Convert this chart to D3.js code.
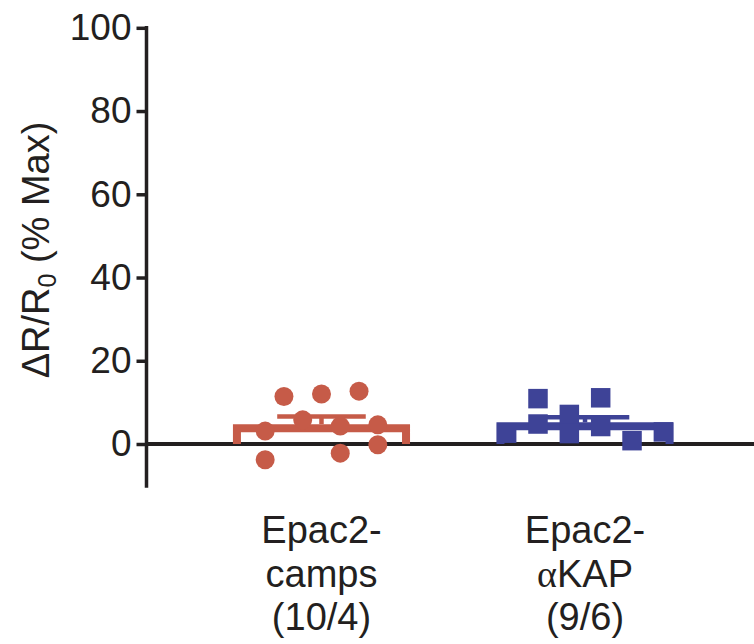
<!DOCTYPE html>
<html>
<head>
<meta charset="utf-8">
<script src="https://cdn.jsdelivr.net/npm/d3@7"></script>
<style>
  body { margin: 0; background: #fff; }
  text { font-family: "Liberation Sans", Arial, sans-serif; fill: #231f20; }
</style>
</head>
<body>
<div id="chart"></div>
<script>
// groups and per-cell values (% max)
var categories = ["camps", "akap"];
var catLines = {
    camps: [["Epac2-"], ["camps"], ["(10/4)"]],
    akap: [["Epac2-"], ["\u03b1", "KAP"], ["(9/6)"]]
};
var campsValues = [11.4, 12.0, 12.7, 5.8, 3.1, 4.3, 4.6, -3.8, -2.2, -0.2];
var campsSlots  = [-2, 0, 2, -1, -3, 1, 3, -3, 1, 3];
var akapValues  = [10.9, 11.1, 7.1, 2.5, 4.8, 4.2, 2.6, 0.8, 2.9];
var akapSlots   = [-1.5, 0.5, -0.5, -0.5, -1.5, 0.5, -2.5, 1.5, 2.5];
var yTicks = [0, 20, 40, 60, 80, 100];

var W = 754, H = 644;
var plotLeft = 146.5, plotTop = 27.8, zeroY = 444;

var svg = d3.select("#chart").append("svg")
    .attr("width", W)
    .attr("height", H);

var y = d3.scaleLinear()
    .domain([-10.5, 100])
    .range([zeroY + 10.5 * (zeroY - plotTop) / 100, plotTop]);

var x = d3.scaleBand()
    .domain(categories)
    .range([plotLeft, 760])
    .padding(0.328);

var groups = [
    {key: "camps", vals: campsValues, slots: campsSlots, color: "#c65b48", shape: "circle", spread: 0.106},
    {key: "akap", vals: akapValues, slots: akapSlots, color: "#3e4397", shape: "square", spread: 0.177}
];

var ink = "#231f20";
var bw = x.bandwidth();
var sw = 8; // bar outline, drawn inside the bar

// y axis
var yAxis = d3.axisLeft(y).tickValues(yTicks).tickSize(10).tickPadding(5);
var ya = svg.append("g")
    .attr("transform", "translate(" + plotLeft + ",0)")
    .call(yAxis);
ya.select(".domain").remove();
ya.append("line")
    .attr("x1", 0).attr("x2", 0)
    .attr("y1", y(100) - 1.75).attr("y2", y(-10.5))
    .attr("stroke", ink).attr("stroke-width", 3.5);
ya.selectAll(".tick line").attr("stroke", ink).attr("stroke-width", 3.5);
ya.selectAll(".tick text")
    .style("font-size", "37px")
    .attr("fill", ink);

// zero line
svg.append("line")
    .attr("x1", plotLeft).attr("x2", W)
    .attr("y1", y(0)).attr("y2", y(0))
    .attr("stroke", ink).attr("stroke-width", 4);

// bars + SEM
groups.forEach(function (g) {
    var m = d3.mean(g.vals);
    var sem = d3.deviation(g.vals) / Math.sqrt(g.vals.length);
    var x0 = x(g.key), x1 = x0 + bw, cx = x0 + bw / 2;
    var yt = y(m);

    svg.append("path")
        .attr("d", "M" + (x0 + sw / 2) + "," + y(0) +
                   "V" + (yt + sw / 2) +
                   "H" + (x1 - sw / 2) +
                   "V" + y(0))
        .attr("fill", "none")
        .attr("stroke", g.color)
        .attr("stroke-width", sw);

    svg.append("line")
        .attr("x1", cx).attr("x2", cx)
        .attr("y1", yt).attr("y2", y(m + sem))
        .attr("stroke", g.color).attr("stroke-width", 4.5);
    svg.append("line")
        .attr("x1", cx - bw / 4).attr("x2", cx + bw / 4)
        .attr("y1", y(m + sem)).attr("y2", y(m + sem))
        .attr("stroke", g.color).attr("stroke-width", 4.5);
});

// points
groups.forEach(function (g) {
    var cx = x(g.key) + bw / 2;
    var pts = g.vals.map(function (v, i) {
        return {v: v, px: cx + g.slots[i] * g.spread * bw};
    });
    if (g.shape === "circle") {
        svg.selectAll(null).data(pts).enter()
            .append("circle")
            .attr("cx", function (d) { return d.px; })
            .attr("cy", function (d) { return y(d.v); })
            .attr("r", 9.5)
            .attr("fill", g.color);
    } else {
        var s = 19.5;
        svg.selectAll(null).data(pts).enter()
            .append("rect")
            .attr("x", function (d) { return d.px - s / 2; })
            .attr("y", function (d) { return y(d.v) - s / 2; })
            .attr("width", s).attr("height", s)
            .attr("fill", g.color);
    }
});

// category labels (greek letter in serif, like the original)
categories.forEach(function (c) {
    catLines[c].forEach(function (parts, i) {
        var t = svg.append("text")
            .attr("x", x(c) + bw / 2)
            .attr("y", 543 + i * 43.5)
            .attr("text-anchor", "middle")
            .style("font-size", "38px");
        parts.forEach(function (p) {
            var sp = t.append("tspan").text(p);
            if (p === "\u03b1") sp.style("font-family", "'Liberation Serif', 'Times New Roman', serif");
        });
    });
});

// y title
var title = svg.append("text")
    .attr("transform", "translate(49,250) rotate(-90)")
    .attr("text-anchor", "middle")
    .style("font-size", "38px");
title.append("tspan").text("\u0394R/R");
title.append("tspan").attr("dy", 7).style("font-size", "25px").text("0");
title.append("tspan").attr("dy", -7).text(" (% Max)");
</script>
</body>
</html>
